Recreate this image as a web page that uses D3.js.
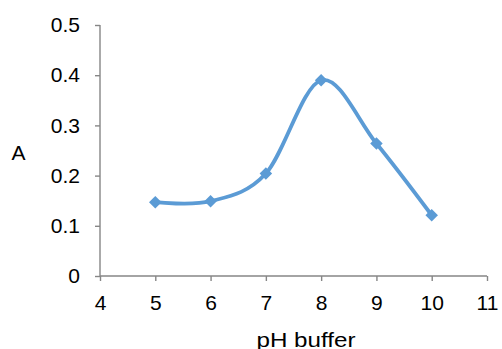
<!DOCTYPE html>
<html>
<head>
<meta charset="utf-8">
<script src="https://cdn.jsdelivr.net/npm/d3@7"></script>
<style>
  body { margin: 0; background: #fff; }
  text { font-family: "Liberation Sans", Arial, sans-serif; fill: #000; }
</style>
</head>
<body>
<script>
(function(){
    //data
    var phValues = [5, 6, 7, 8, 9, 10];
    var absorbance = [0.147, 0.149, 0.204, 0.390, 0.264, 0.121];
    var xTicks = [4, 5, 6, 7, 8, 9, 10, 11];
    var yTicks = [0, 0.1, 0.2, 0.3, 0.4, 0.5];

    var width = 502, height = 349;
    var left = 100, right = 487, top = 25, bottom = 276;
    var axisColor = "#868686", lineColor = "#5B9BD5";

    var svg = d3.select("body").append("svg")
        .attr("width", width)
        .attr("height", height);

    var x = d3.scaleLinear().domain([4, 11]).range([left, right]);
    var y = d3.scaleLinear().domain([0, 0.5]).range([bottom, top]);

    //y axis
    var yAxis = svg.append("g")
        .attr("transform", "translate(" + left + ",0)")
        .call(d3.axisLeft(y).tickValues(yTicks).tickSize(5).tickPadding(15)
            .tickFormat(function(d){ return d === 0 ? "0" : d3.format(".1f")(d); }));

    //x axis
    var xAxis = svg.append("g")
        .attr("transform", "translate(0," + bottom + ")")
        .call(d3.axisBottom(x).tickValues(xTicks).tickSize(5).tickPadding(14)
            .tickFormat(d3.format("d")));

    [yAxis, xAxis].forEach(function(g){
        g.select(".domain").attr("stroke", axisColor).attr("stroke-width", 1.4);
        g.selectAll(".tick line").attr("stroke", axisColor).attr("stroke-width", 1.4);
        g.selectAll(".tick text")
            .attr("fill", "#000")
            .style("font-size", "21px");
    });
    //plain axis lines without the outer end caps
    yAxis.select(".domain").attr("d", "M0," + top + "V" + bottom);
    xAxis.select(".domain").attr("d", "M" + left + ",0H" + right);

    //axis titles
    svg.append("text")
        .attr("x", 306)
        .attr("y", 347)
        .attr("text-anchor", "middle")
        .attr("textLength", 99)
        .attr("lengthAdjust", "spacingAndGlyphs")
        .style("font-size", "21px")
        .text("pH buffer");

    svg.append("text")
        .attr("x", 18.5)
        .attr("y", 160)
        .attr("text-anchor", "middle")
        .style("font-size", "21px")
        .text("A");

    //smoothed series line
    var pts = phValues.map(function(d, i){ return [d, absorbance[i]]; });
    var line = d3.line()
        .x(function(d){ return x(d[0]); })
        .y(function(d){ return y(d[1]); })
        .curve(d3.curveCardinal.tension(0));

    svg.append("path")
        .datum(pts)
        .attr("d", line)
        .attr("fill", "none")
        .attr("stroke", lineColor)
        .attr("stroke-width", 3.8)
        .attr("stroke-linecap", "round");

    //diamond markers
    var diamond = d3.symbol().type(d3.symbolDiamond2).size(100);
    svg.selectAll(".marker")
        .data(pts)
        .enter()
        .append("path")
        .attr("class", "marker")
        .attr("d", diamond)
        .attr("transform", function(d){
            return "translate(" + x(d[0]) + "," + y(d[1]) + ")";
        })
        .attr("fill", lineColor);
})();
</script>
</body>
</html>
